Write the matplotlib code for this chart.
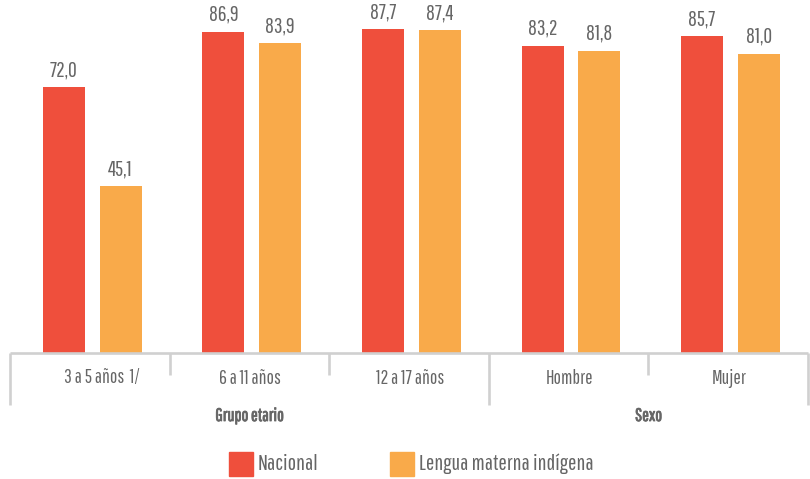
import matplotlib
matplotlib.use("Agg")
import matplotlib.pyplot as plt
from matplotlib.patches import Rectangle
from matplotlib.lines import Line2D
from matplotlib import patheffects as pe
from matplotlib.transforms import offset_copy

categories = ["3 a 5 años  1/", "6 a 11 años", "12 a 17 años", "Hombre", "Mujer"]
groups = ["Grupo etario", "Sexo"]
group_spans = [(0, 3), (3, 5)]
nacional = [72.0, 86.9, 87.7, 83.2, 85.7]
lengua = [45.1, 83.9, 87.4, 81.8, 81.0]
series_names = ["Nacional", "Lengua materna indígena"]

RED = "#EF4F3C"
ORANGE = "#F9AA4A"
TXT = "#666666"
LINE = "#D0D0D0"
FONT = ["Pathway Gothic One", "Barlow Condensed", "DejaVu Sans"]
plt.rcParams["font.family"] = FONT

W, H = 810, 479
fig = plt.figure(figsize=(W / 100, H / 100), dpi=100)
ax = fig.add_axes([10 / W, 126 / H, 798 / W, 353 / H])
ax.set_xlim(0, 5)
ax.set_ylim(0, 95.55)
ax.axis("off")

bw = 0.263
off_r = -0.163
off_o = 0.193
xs = [i + 0.5 for i in range(len(categories))]
ax.bar([x + off_r for x in xs], nacional, width=bw, color=RED)
ax.bar([x + off_o for x in xs], lengua, width=bw, color=ORANGE)

def fmt(v):
    return f"{v:.1f}".replace(".", ",")

for off, vals in [(off_r, nacional), (off_o, lengua)]:
    for x, v in zip(xs, vals):
        ax.text(x + off, v + 3.0, fmt(v), ha="center", va="baseline", color=TXT,
                fontsize=15.5)

def ypix(p):
    return (353 - p) / 353.0

trans = ax.get_xaxis_transform()
ax.add_line(Line2D([0, 5], [0, 0], transform=trans, color=LINE, lw=1.9, clip_on=False,
                   solid_capstyle="butt"))
for b in range(6):
    long = b in (0, 3, 5)
    bottom = 405 if long else 375
    ax.add_line(Line2D([b, b], [0, ypix(bottom)], transform=trans, color=LINE, lw=1.9,
                       clip_on=False, solid_capstyle="butt"))

for i, (x, c) in enumerate(zip(xs, categories)):
    t = offset_copy(trans, fig=fig, x=(12 if i == 0 else 1), y=0, units="dots")
    ax.text(x, ypix(378), c, transform=t, ha="center", va="center", color=TXT,
            fontsize=14)

bold = [pe.withStroke(linewidth=0.6, foreground=TXT)]
for g, (a, b) in zip(groups, group_spans):
    ax.text((a + b) / 2, ypix(416), g, transform=trans, ha="center", va="center",
            color=TXT, fontsize=13, path_effects=bold)

for px, col, name in [(229, RED, series_names[0]), (390, ORANGE, series_names[1])]:
    fig.patches.append(Rectangle((px / W, (479 - 476) / H), 24 / W, 24 / H,
                                 transform=fig.transFigure, color=col))
    fig.text((px + 29) / W, (479 - 464) / H, name, ha="left", va="center",
             color=TXT, fontsize=16)

fig.savefig("out.png", dpi=100)
